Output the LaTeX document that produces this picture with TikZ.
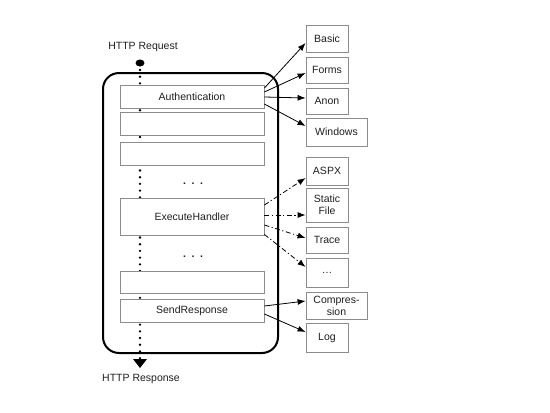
\documentclass[tikz,border=0pt]{standalone}
\usepackage{fontspec}
\setmainfont{Liberation Sans}
\usetikzlibrary{arrows.meta,calc,shapes.geometric}
\begin{document}
\begin{tikzpicture}[x=1pt,y=-1pt,
  txt/.style={font=\fontsize{10.5}{12}\selectfont, text=black!88},
  stage/.style={txt, draw=black!45, fill=white, line width=0.8pt, minimum width=144pt, inner sep=0pt},
  mod/.style={txt, draw=black!45, fill=white, line width=0.8pt, minimum width=42pt, inner sep=0pt, align=center},
  arr/.style={line width=0.8pt, -{Latex[length=8pt,width=6pt]}},
  dd/.style={arr, dash pattern=on 5pt off 2.5pt on 1.2pt off 2.5pt}
]
\useasboundingbox (0,0) rectangle (550,413);
% outer pipeline container
\node[draw=black, line width=2pt, rounded corners=16pt, minimum width=175pt, minimum height=280pt, inner sep=0pt] (pipe) at (190.5,213) {};
% request flow
\coordinate (ftop) at (140,70);
\coordinate (fbot) at (140,360);
\draw[line width=2.6pt, line cap=round, dash pattern=on 0pt off 6.7pt] (ftop) -- (fbot);
\node[ellipse, fill=black, minimum width=9pt, minimum height=7pt, inner sep=0pt] (start) at (140,63) {};
\fill (133,359) -- (147,359) -- (140,368) -- cycle;
\node[txt] (req) at (143,47) {HTTP Request};
\node[txt] (resp) at (141,379) {HTTP Response};
% stages
\node[stage, minimum height=23pt] (auth) at (192,96.5) {Authentication};
\node[stage, minimum height=23pt] (s2) at (192,123.5) {};
\node[stage, minimum height=23pt] (s3) at (192,153.5) {};
\node[txt] (dots1) at (193,184) {\bfseries .\hspace{5.6pt}.\hspace{5.6pt}.};
\node[stage, minimum height=37pt] (exec) at (192,216.5) {ExecuteHandler};
\node[txt] (dots2) at (193,257) {\bfseries .\hspace{5.6pt}.\hspace{5.6pt}.};
\node[stage, minimum height=22pt] (s5) at (192,282) {};
\node[stage, minimum height=23pt] (send) at (192,310.5) {SendResponse};
% modules
\node[mod, minimum height=27pt] (basic) at (327,38.5) {Basic};
\node[mod, minimum height=26pt] (forms) at (327,70) {Forms};
\node[mod, minimum height=26pt] (anon) at (327,101) {Anon};
\node[mod, minimum width=61pt, minimum height=28pt] (win) at (336.5,132) {Windows};
\node[mod, minimum height=28pt] (aspx) at (327,171) {ASPX};
\node[mod, minimum height=34pt] (static) at (327,205) {Static\\File};
\node[mod, minimum height=26pt] (trace) at (327,240) {Trace};
\node[mod, minimum height=29pt] (more) at (327,272.5) {\ldots};
\node[mod, minimum width=61pt, minimum height=27pt] (compr) at (336.5,305.5) {Compres-\\sion};
\node[mod, minimum height=29pt] (log) at (327,337.5) {Log};
% connectors
\draw[arr] ($(auth.east)+(0,-8.5)$) -- ($(basic.west)+(0,4.5)$);
\draw[arr] ($(auth.east)+(0,-4.5)$) -- ($(forms.west)+(0,3)$);
\draw[arr] ($(auth.east)+(0,0.5)$) -- ($(anon.west)+(0,-3)$);
\draw[arr] ($(auth.east)+(0,7.5)$) -- ($(win.west)+(0,-6)$);
\draw[dd] ($(exec.east)+(0,-11.5)$) -- ($(aspx.west)+(0,7)$);
\draw[dd] ($(exec.east)+(0,-1.5)$) -- ($(static.west)+(0,10)$);
\draw[dd] ($(exec.east)+(0,8.5)$) -- ($(trace.west)+(0,-2)$);
\draw[dd] ($(exec.east)+(0,18)$) -- ($(more.west)+(0,-5.5)$);
\draw[arr] ($(send.east)+(0,-4.5)$) -- ($(compr.west)+(0,-4.5)$);
\draw[arr] ($(send.east)+(0,3.5)$) -- ($(log.west)+(0,-5.5)$);
\end{tikzpicture}
\end{document}
